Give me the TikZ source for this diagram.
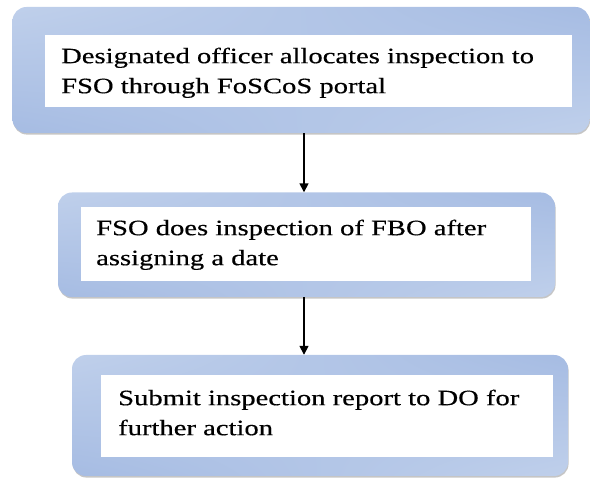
\documentclass[tikz,border=0pt]{standalone}
\usepackage{fontspec}
\setmainfont[FakeStretch=1.30,FakeBold=0.4]{Liberation Serif}
\usetikzlibrary{arrows.meta,shadows}
\pgfdeclarefunctionalshading{bevel}{\pgfpoint{-50bp}{-50bp}}{\pgfpoint{50bp}{50bp}}{}{
 50 add 100 div exch 50 add 100 div
 2 copy mul 3 1 roll 1 exch sub exch 1 exch sub mul add
 dup dup
 -0.40 mul 0.90 add
 exch -0.31 mul 0.93 add
 3 2 roll -0.13 mul 0.97 add
}
\tikzset{
 outerbox/.style={shade, shading=bevel, rounded corners=14pt, inner sep=0pt,
   drop shadow={shadow xshift=0.6pt, shadow yshift=-1.6pt, fill=black!45, opacity=0.5}},
 innerbox/.style={fill=white, inner sep=0pt},
 txt/.style={anchor=north west, inner sep=0pt, align=left, font=\fontsize{22}{30}\selectfont},
 link/.style={line width=1.6pt, -{Triangle[length=9pt,width=9pt]}}
}
\begin{document}
\begin{tikzpicture}[x=1pt,y=-1pt]
\useasboundingbox (0,0) rectangle (590,478);
% box 1
\node[outerbox, minimum width=577pt, minimum height=126pt] (b1) at (301,70) {};
\node[innerbox, minimum width=526.5pt, minimum height=72pt] (i1) at (308.25,71) {};
\node[txt] (t1) at (61,41) {\rule{0pt}{22pt}Designated officer allocates inspection to\\FSO through FoSCoS portal};
% box 2
\node[outerbox, minimum width=497pt, minimum height=104.5pt] (b2) at (306.5,244.75) {};
\node[innerbox, minimum width=450pt, minimum height=74pt] (i2) at (306,244) {};
\node[txt] (t2) at (96,213) {\rule{0pt}{22pt}FSO does inspection of FBO after\\assigning a date};
% box 3
\node[outerbox, minimum width=496pt, minimum height=121pt] (b3) at (320,415.5) {};
\node[innerbox, minimum width=451.5pt, minimum height=82pt] (i3) at (326.75,416) {};
\node[txt] (t3) at (118,383) {\rule{0pt}{22pt}Submit inspection report to DO for\\further action};
% arrows
\coordinate (ax) at (304,0);
\draw[link] (b1.south -| ax) -- (b2.north -| ax);
\draw[link] (b2.south -| ax) -- (b3.north -| ax);
\end{tikzpicture}
\end{document}
